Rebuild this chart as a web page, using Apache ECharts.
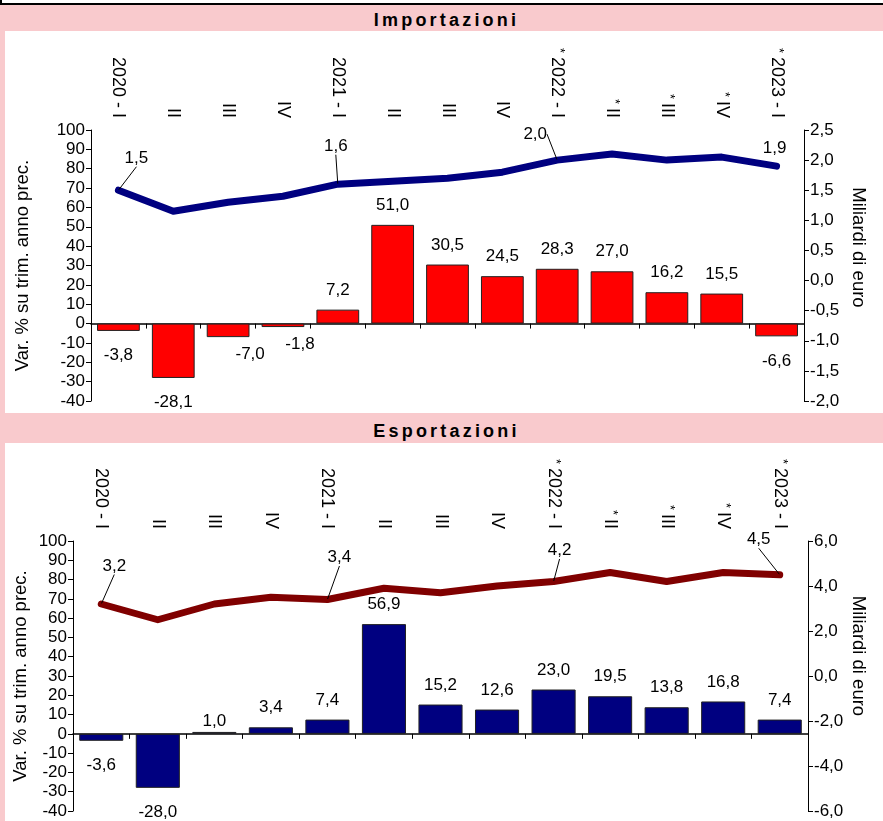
<!DOCTYPE html>
<html>
<head>
<meta charset="utf-8">
<script src="https://cdn.jsdelivr.net/npm/echarts@6/dist/echarts.min.js"></script>
<style>
  html, body { margin:0; padding:0; background:#F9CACD; width:883px; height:821px; overflow:hidden; }
  .panel { position:absolute; background:#fff; }
  .ttl { position:absolute; left:0; width:893px; text-align:center; font-family:"Liberation Sans", Arial, sans-serif;
         font-weight:bold; font-size:18px; letter-spacing:3.2px; color:#000; line-height:22px; }
  #chart { position:absolute; left:0; top:0; width:883px; height:821px; }
</style>
</head>
<body>
<div class="panel" style="left:0;top:0;width:883px;height:3px;"></div>
<div style="position:absolute;left:0;top:3px;width:883px;height:2px;background:#000;"></div>
<div style="position:absolute;left:0;top:0;width:2px;height:4px;background:#000;"></div>
<div class="panel" style="left:5px;top:31px;width:878px;height:382px;"></div>
<div class="panel" style="left:5px;top:443px;width:878px;height:378px;"></div>
<div class="ttl" style="top:9px;">Importazioni</div>
<div class="ttl" style="top:420px;">Esportazioni</div>
<div id="chart"></div>
<script>
// ---- data ----
const categories = ['2020 - I','II','III','IV','2021 - I','II','III','IV','2022 - I','II','III','IV','2023 - I'];
const provisional = [false,false,false,false,false,false,false,false,true,true,true,true,true];
const importVar = [-3.8,-28.1,-7.0,-1.8,7.2,51.0,30.5,24.5,28.3,27.0,16.2,15.5,-6.6];
const importBalance = [1.5,1.15,1.3,1.4,1.6,1.65,1.7,1.8,2.0,2.1,2.0,2.05,1.9];
const exportVar = [-3.6,-28.0,1.0,3.4,7.4,56.9,15.2,12.6,23.0,19.5,13.8,16.8,7.4];
const exportBalance = [3.2,2.5,3.2,3.5,3.4,3.9,3.7,4.0,4.2,4.6,4.2,4.6,4.5];
const labelledPoints = [0,4,8,12];
const leftTicks = [-40,100,10];
const importRightTicks = [-2,2.5,0.5];
const exportRightTicks = [-6,6,2];

// ---- layout/style config ----
const FONT = '"Liberation Sans", Arial, sans-serif';
const importLabelOffsets = {0:[18,-32,true],4:[-2,-38,true],8:[-22,-26,true],12:[-2,-18,false]};
const exportLabelOffsets = {0:[13,-38,true],4:[12,-42,true],8:[6,-31,true],12:[-21,-35,true]};
const importBarShift = {2:[22,-7],3:[17,-7]};
const exportBarShift = {2:[0,9]};

const comma = v => Number(v).toFixed(1).replace('.', ',');

function catAxisTop(gi) {
  return {
    gridIndex: gi, type:'category', data: categories, position:'top',
    axisLine:{show:false}, axisTick:{show:false},
    axisLabel:{
      rotate:-90, margin:12, fontSize:18, color:'#000', fontFamily:FONT,
      formatter:(v,i)=> provisional[i] ? '{s|*}' + v : v,
      rich:{ s:{fontSize:13, color:'#000', fontFamily:FONT, verticalAlign:'top', padding:[0,4,0,0]} }
    }
  };
}
function catAxisZero(gi, yIdx) {
  return {
    gridIndex: gi, type:'category', data: categories, position:'bottom',
    axisLine:{show:true, onZero:true, onZeroAxisIndex:yIdx, lineStyle:{color:'#000', width:1.5}},
    axisTick:{show:true, length:5, lineStyle:{color:'#000', width:1}},
    axisLabel:{show:false}, splitLine:{show:false}
  };
}
function valAxis(gi, pos, t, fmt, name, nameGap, pad) {
  return {
    gridIndex: gi, type:'value', position: pos, min:t[0], max:t[1], interval:t[2],
    axisLine:{show:true, onZero:false, lineStyle:{color:'#000', width:1}},
    axisTick:{show:true, length:5, lineStyle:{color:'#000'}},
    axisLabel:{fontSize:17, color:'#000', fontFamily:FONT, formatter: fmt, margin:6},
    splitLine:{show:false},
    name: name, nameLocation:'middle', nameGap: nameGap, nameMoveOverlap:false,
    nameRotate: pos === 'left' ? 90 : -90,
    nameTextStyle:{fontSize:18.5, color:'#000', fontFamily:FONT, padding: pad}
  };
}
function barSeries(xi, yi, values, color, shift) {
  return {
    type:'bar', xAxisIndex:xi, yAxisIndex:yi, barCategoryGap:'22%', z:2,
    itemStyle:{color: color, borderColor:'#222', borderWidth:1},
    label:{show:true, fontSize:17, color:'#000', fontFamily:FONT, formatter: p => comma(p.value)},
    data: values.map((v,i) => ({
      value: v,
      label: Object.assign({position: v >= 0 ? 'top' : 'bottom', distance: v >= 0 ? 11 : 16},
                           shift[i] ? {offset: shift[i]} : {})
    }))
  };
}
function lineSeries(xi, yi, values, color, offsets) {
  return {
    type:'line', xAxisIndex:xi, yAxisIndex:yi, z:5,
    symbol:'circle', symbolSize:1, showSymbol:true,
    itemStyle:{color: color},
    lineStyle:{color: color, width:7, cap:'round', join:'round'},
    label:{show:false, fontSize:17, color:'#000', fontFamily:FONT, formatter: p => comma(p.value)},
    labelLine:{show:true, lineStyle:{color:'#000', width:1}},
    data: values.map((v,i) => labelledPoints.includes(i)
      ? {value:v, label:{show:true, position:'inside'}, labelLine:{show: offsets[i][2]}}
      : {value:v}),
    labelLayout: function (p) {
      const o = offsets[p.dataIndex];
      if (!o) return {};
      const cx = p.rect.x + p.rect.width / 2, cy = p.rect.y + p.rect.height / 2;
      return {x: cx + o[0], y: cy + o[1], align:'center', verticalAlign:'middle'};
    },
    animation:false
  };
}

const chart = echarts.init(document.getElementById('chart'), null, {renderer:'canvas'});
chart.setOption({
  backgroundColor:'transparent',
  animation:false,
  grid:[
    {left:91, right:79, top:130, height:271},
    {left:73, right:75, top:541, height:270}
  ],
  xAxis:[ catAxisTop(0), catAxisZero(0,0), catAxisTop(1), catAxisZero(1,2) ],
  yAxis:[
    valAxis(0,'left', leftTicks, v => String(v), 'Var. % su trim. anno prec.', 59, [0,0,0,0]),
    valAxis(0,'right', importRightTicks, comma, 'Miliardi di euro', 45, [0,36,0,0]),
    valAxis(1,'left', leftTicks, v => String(v), 'Var. % su trim. anno prec.', 43, [0,0,0,0]),
    valAxis(1,'right', exportRightTicks, comma, 'Miliardi di euro', 41, [0,40,0,0])
  ],
  series:[
    barSeries(1, 0, importVar, '#FF0000', importBarShift),
    lineSeries(1, 1, importBalance, '#000080', importLabelOffsets),
    barSeries(3, 2, exportVar, '#000080', exportBarShift),
    lineSeries(3, 3, exportBalance, '#800000', exportLabelOffsets)
  ]
});
</script>
</body>
</html>
